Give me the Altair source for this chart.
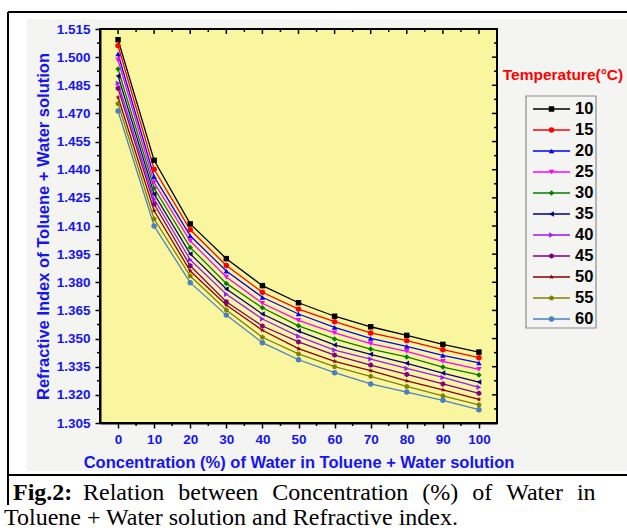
import altair as alt
import pandas as pd

# ---------------- data ----------------
conc = [0, 10, 20, 30, 40, 50, 60, 70, 80, 90, 100]
temperatures = ["10", "15", "20", "25", "30", "35", "40", "45", "50", "55", "60"]

ri_10 = [1.5093, 1.4450, 1.4111, 1.3926, 1.3782, 1.3691, 1.3619, 1.3563, 1.3517, 1.3469, 1.3428]
ri_15 = [1.5061, 1.4402, 1.4080, 1.3890, 1.3747, 1.3657, 1.3590, 1.3530, 1.3489, 1.3441, 1.3398]
ri_20 = [1.5017, 1.4363, 1.4048, 1.3860, 1.3720, 1.3631, 1.3560, 1.3501, 1.3459, 1.3411, 1.3370]
ri_25 = [1.4985, 1.4331, 1.4020, 1.3828, 1.3688, 1.3597, 1.3530, 1.3473, 1.3432, 1.3379, 1.3336]
ri_30 = [1.4937, 1.4301, 1.3986, 1.3794, 1.3664, 1.3568, 1.3498, 1.3444, 1.3402, 1.3348, 1.3306]
ri_35 = [1.4900, 1.4270, 1.3951, 1.3764, 1.3631, 1.3540, 1.3466, 1.3416, 1.3368, 1.3316, 1.3268]
ri_40 = [1.4861, 1.4244, 1.3920, 1.3736, 1.3604, 1.3512, 1.3439, 1.3391, 1.3341, 1.3293, 1.3240]
ri_45 = [1.4834, 1.4217, 1.3888, 1.3696, 1.3567, 1.3482, 1.3412, 1.3359, 1.3309, 1.3258, 1.3208]
ri_50 = [1.4786, 1.4181, 1.3860, 1.3679, 1.3544, 1.3446, 1.3379, 1.3329, 1.3275, 1.3227, 1.3176]
ri_55 = [1.4752, 1.4137, 1.3833, 1.3652, 1.3507, 1.3418, 1.3350, 1.3299, 1.3245, 1.3195, 1.3147]
ri_60 = [1.4713, 1.4100, 1.3798, 1.3625, 1.3478, 1.3387, 1.3318, 1.3258, 1.3215, 1.3171, 1.3121]

series = [ri_10, ri_15, ri_20, ri_25, ri_30, ri_35, ri_40, ri_45, ri_50, ri_55, ri_60]

series_colors = ["#000000", "#FF0000", "#0000FF", "#FF00FF", "#008000", "#000080",
                 "#9A1AFF", "#800080", "#8B0000", "#808000", "#4A80C0"]
STAR = "M0,-1L0.2245,-0.309L0.951,-0.309L0.363,0.118L0.588,0.809L0,0.382L-0.588,0.809L-0.363,0.118L-0.951,-0.309L-0.2245,-0.309Z"
HEX = "M0,-1L0.866,-0.5L0.866,0.5L0,1L-0.866,0.5L-0.866,-0.5Z"
PENT = "M0,-1L0.951,-0.309L0.588,0.809L-0.588,0.809L-0.951,-0.309Z"
series_shapes = ["square", "circle", "triangle-up", "triangle-down", "diamond",
                 "triangle-left", "triangle-right", HEX, STAR, PENT, "circle"]

x_major = [0, 10, 20, 30, 40, 50, 60, 70, 80, 90, 100]
x_minor = [5, 15, 25, 35, 45, 55, 65, 75, 85, 95]
y_major = [1.305, 1.320, 1.335, 1.350, 1.365, 1.380, 1.395, 1.410, 1.425, 1.440,
           1.455, 1.470, 1.485, 1.500, 1.515]
y_minor = [1.3125, 1.3275, 1.3425, 1.3575, 1.3725, 1.3875, 1.4025, 1.4175, 1.4325,
           1.4475, 1.4625, 1.4775, 1.4925, 1.5075]

x_title = "Concentration (%) of Water in Toluene + Water solution"
y_title = "Refractive Index of Toluene + Water solution"
legend_title = "Temperature(°C)"
caption_bold = "Fig.2:"
GAP = "\u2002\u200a"
caption_line1 = GAP.join(["Relation", "between", "Concentration", "(%)", "of", "Water", "in"])
caption_line2 = "Toluene + Water solution and Refractive index."

rows = []
for t, vals in zip(temperatures, series):
    for c, v in zip(conc, vals):
        rows.append({"conc": c, "ri": v, "temp": t})
df = pd.DataFrame(rows)

# ---------------- styling ----------------
W, H = 397, 394
SANS = "Liberation Sans"
SERIF = "Liberation Serif"
BLUE = "#1414F5"
one = pd.DataFrame({"a": [0]})

xscale = alt.Scale(domain=[-5, 105], nice=False, zero=False)
yscale = alt.Scale(domain=[1.305, 1.515], nice=False, zero=False)
cscale = alt.Scale(domain=temperatures, range=series_colors)
sscale = alt.Scale(domain=temperatures, range=series_shapes)

x_axis = alt.Axis(
    values=x_major, format="d",
    tickSize=5, tickColor="black", tickWidth=1.5, domainColor="black", domainWidth=2,
    labelColor=BLUE, labelFont=SANS, labelFontSize=13.5, labelFontWeight="bold",
    labelPadding=4, labelOverlap=False, labelFlush=False,
    title=x_title, titleColor=BLUE, titleFont=SANS, titleFontSize=16.5,
    titleFontWeight="bold", titlePadding=9, grid=False, zindex=1,
)
y_axis = alt.Axis(
    values=y_major, format=".3f",
    tickSize=5, tickColor="black", tickWidth=1.5, domainColor="black", domainWidth=2,
    labelColor=BLUE, labelFont=SANS, labelFontSize=13.5, labelFontWeight="bold",
    labelPadding=5, labelOverlap=False, labelFlush=False,
    title=y_title, titleColor=BLUE, titleFont=SANS, titleFontSize=16.5,
    titleFontWeight="bold", titlePadding=5, grid=False, zindex=1,
)
x_enc = alt.X("conc:Q", scale=xscale, axis=x_axis)
y_enc = alt.Y("ri:Q", scale=yscale, axis=y_axis)

# white margins around the light grey chart region, and frame lines
white_top = alt.Chart(one).mark_rect(fill="white").encode(
    x=alt.value(-100), x2=alt.value(527), y=alt.value(-29), y2=alt.value(-10))
white_left = alt.Chart(one).mark_rect(fill="white").encode(
    x=alt.value(-100), x2=alt.value(-73), y=alt.value(-29), y2=alt.value(502))
white_bottom = alt.Chart(one).mark_rect(fill="white").encode(
    x=alt.value(-100), x2=alt.value(527), y=alt.value(442), y2=alt.value(502))
frame_left = alt.Chart(one).mark_rule(color="black", strokeWidth=2).encode(
    x=alt.value(-92), y=alt.value(-17), y2=alt.value(476))
frame_top = alt.Chart(one).mark_rule(color="black", strokeWidth=2).encode(
    x=alt.value(-92), x2=alt.value(527), y=alt.value(-17))
frame_mid = alt.Chart(one).mark_rule(color="black", strokeWidth=2).encode(
    x=alt.value(-92), x2=alt.value(527), y=alt.value(446))

lines = alt.Chart(df).mark_line(strokeWidth=1.3).encode(
    x=x_enc, y=y_enc,
    color=alt.Color("temp:N", scale=cscale, legend=None),
    order=alt.Order("conc:Q"),
)
points = alt.Chart(df).mark_point(filled=True, size=30, opacity=1).encode(
    x=x_enc, y=y_enc,
    color=alt.Color("temp:N", scale=cscale, legend=None),
    shape=alt.Shape("temp:N", scale=sscale, legend=None),
)

def xticks(vals, y0, y1):
    return alt.Chart(pd.DataFrame({"conc": vals})).mark_rule(color="black", strokeWidth=1.5).encode(
        x=x_enc, y=alt.value(y0), y2=alt.value(y1))

def yticks(vals, x0, x1):
    return alt.Chart(pd.DataFrame({"ri": vals})).mark_rule(color="black", strokeWidth=1.5).encode(
        y=y_enc, x=alt.value(x0), x2=alt.value(x1))

plot_frame = alt.Chart(one).mark_rect(fill=None, fillOpacity=0, stroke="black", strokeWidth=2).encode(
    x=alt.value(0), x2=alt.value(W), y=alt.value(0), y2=alt.value(H))

main = alt.layer(
    white_top, white_left, white_bottom, frame_left, frame_top, frame_mid,
    lines, points,
    xticks(x_major, 0, 5), xticks(x_minor, 0, 3), xticks(x_minor, H, H + 3),
    yticks(y_major, W - 5, W), yticks(y_minor, W - 3, W), yticks(y_minor, -3, 0),
    plot_frame,
)

# ---------------- legend & caption ----------------
leg_df = pd.DataFrame({"temp": temperatures})
ly = alt.Y("temp:N", scale=alt.Scale(type="point", domain=temperatures, range=[80, 290], padding=0),
           axis=None)
leg_box = alt.Chart(one).mark_rect(fill=None, fillOpacity=0, stroke="#8C8C8C", strokeWidth=1.2).encode(
    x=alt.value(426), x2=alt.value(496), y=alt.value(67), y2=alt.value(299))
leg_rule = alt.Chart(leg_df).mark_rule(strokeWidth=1.5).encode(
    x=alt.value(433), x2=alt.value(470), y=ly,
    color=alt.Color("temp:N", scale=cscale, legend=None))
leg_pts = alt.Chart(leg_df).mark_point(filled=True, size=30, opacity=1).encode(
    x=alt.value(451.5), y=ly,
    color=alt.Color("temp:N", scale=cscale, legend=None),
    shape=alt.Shape("temp:N", scale=sscale, legend=None))
leg_txt = alt.Chart(leg_df).mark_text(align="left", baseline="middle", font=SANS, fontSize=16.5,
                                      fontWeight="bold", color="black").encode(
    x=alt.value(475), y=ly, text="temp:N")
leg_title = alt.Chart(one).mark_text(align="center", baseline="middle", font=SANS, fontSize=15.5,
                                     fontWeight="bold", color="#FF0000").encode(
    x=alt.value(463), y=alt.value(46), text=alt.value(legend_title))

cap_b = alt.Chart(one).mark_text(align="left", baseline="middle", font=SERIF, fontSize=24,
                                 fontWeight="bold", color="black").encode(
    x=alt.value(-87), y=alt.value(464), text=alt.value(caption_bold))
cap_1 = alt.Chart(one).mark_text(align="left", baseline="middle", font=SERIF, fontSize=24,
                                 color="black").encode(
    x=alt.value(-17), y=alt.value(464), text=alt.value(caption_line1))
cap_2 = alt.Chart(one).mark_text(align="left", baseline="middle", font=SERIF, fontSize=24,
                                 color="black").encode(
    x=alt.value(-96), y=alt.value(489), text=alt.value(caption_line2))

legend = alt.layer(leg_box, leg_rule, leg_pts, leg_txt, leg_title, cap_b, cap_1, cap_2)

chart = alt.layer(main, legend).resolve_scale(y="independent").properties(
    width=W, height=H,
    autosize=alt.AutoSizeParams(type="none"),
    padding={"left": 100, "top": 29, "right": 130, "bottom": 108},
    background="#F4F4F2",
).configure_view(stroke=None, fill="#FAF6A0")

chart.save("out.html", embed_options={"renderer": "svg", "actions": False})
